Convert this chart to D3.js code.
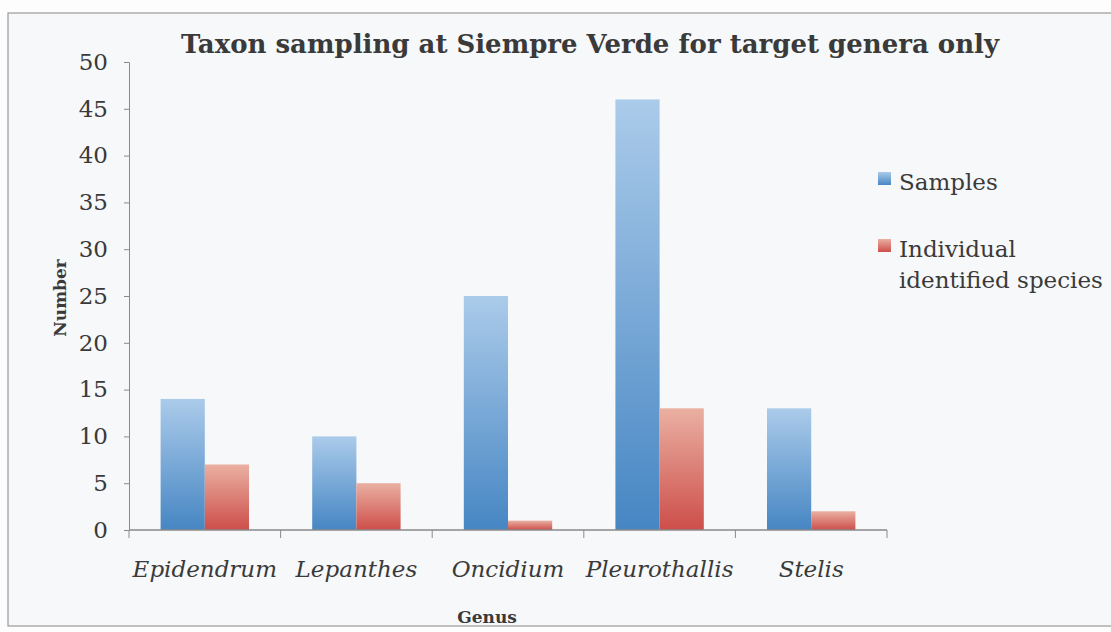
<!DOCTYPE html>
<html lang="en">
<head>
    <meta charset="UTF-8">
    <title>Taxon sampling</title>
    <script src="https://d3js.org/d3.v7.min.js"></script>
    <style>
        body { margin: 0; background: #fdfdfd; }
        text { font-family: 'DejaVu Serif', serif; fill: #3a3a3a; }
    </style>
</head>
<body>
<script>
    const width  = 1111;
    const height = 632;

    const genera  = ["Epidendrum", "Lepanthes", "Oncidium", "Pleurothallis", "Stelis"];
    const seriesNames = ["Samples", "Individual identified species"];
    const samples = [14, 10, 25, 46, 13];
    const species = [7, 5, 1, 13, 2];
    const yTicks  = [0, 5, 10, 15, 20, 25, 30, 35, 40, 45, 50];

    const data = genera.map((g, i) => ({genus: g, values: [samples[i], species[i]]}));

    const svg = d3.select("body").append("svg").attr("width", width).attr("height", height);

    // gradients, lighter at the top like the scanned bars
    const defs = svg.append("defs");
    const grads = [["blueGrad", "#abcbea", "#4686c3"], ["redGrad", "#eab0a2", "#cd4e4a"]];
    grads.forEach(g => {
        const lg = defs.append("linearGradient").attr("id", g[0])
                       .attr("x1", 0).attr("x2", 0).attr("y1", 0).attr("y2", 1);
        lg.append("stop").attr("offset", "0%").attr("stop-color", g[1]);
        lg.append("stop").attr("offset", "100%").attr("stop-color", g[2]);
    });

    // frame of the scanned page
    svg.append("rect").attr("x", 8).attr("y", 13).attr("width", width).attr("height", 613)
        .attr("fill", "#f6f8f9").attr("stroke", "#9a9a9a").attr("stroke-width", 1.2);

    const x0 = d3.scaleBand().domain(genera).range([129, 887])
                 .paddingInner(0.417).paddingOuter(0.2085);
    const x1 = d3.scaleBand().domain([0, 1]).range([0, x0.bandwidth()]);
    const y  = d3.scaleLinear().domain([0, 50]).range([530, 62]);

    // y axis
    const yAxis = svg.append("g").attr("transform", "translate(129,0)")
        .call(d3.axisLeft(y).tickValues(yTicks).tickSize(5).tickPadding(16));
    yAxis.select(".domain").attr("stroke", "#8a8a8a");
    yAxis.selectAll(".tick line").attr("stroke", "#8a8a8a");
    yAxis.selectAll(".tick text").attr("font-size", 23).attr("font-family", "'DejaVu Serif', serif")
         .attr("fill", "#3a3a3a");

    // bars
    const groups = svg.selectAll(".grp").data(data).enter().append("g")
        .attr("transform", d => "translate(" + x0(d.genus) + ",0)");
    groups.selectAll("rect").data(d => d.values).enter().append("rect")
        .attr("x", (d, i) => x1(i))
        .attr("width", x1.bandwidth())
        .attr("y", d => y(d))
        .attr("height", d => y(0) - y(d))
        .attr("fill", (d, i) => i === 0 ? "url(#blueGrad)" : "url(#redGrad)");

    // x axis: ticks at category boundaries
    const xAxis = svg.append("g").attr("transform", "translate(0," + y(0) + ")");
    xAxis.append("line").attr("x1", 129).attr("x2", 887).attr("stroke", "#8a8a8a").attr("stroke-width", 1.5);
    const step = x0.step();
    d3.range(genera.length + 1).forEach(i => {
        xAxis.append("line").attr("x1", 129 + i * step).attr("x2", 129 + i * step)
             .attr("y1", 0).attr("y2", 8).attr("stroke", "#8a8a8a");
    });
    xAxis.selectAll(".lab").data(genera).enter().append("text")
        .attr("x", d => x0(d) + x0.bandwidth() / 2)
        .attr("y", 47)
        .attr("text-anchor", "middle")
        .attr("font-size", 23)
        .attr("font-style", "italic")
        .text(d => d);

    // titles
    svg.append("text").attr("x", 590).attr("y", 53).attr("text-anchor", "middle")
        .attr("font-size", 26).attr("font-weight", "bold").attr("fill", "#333")
        .text("Taxon sampling at Siempre Verde for target genera only");
    svg.append("text").attr("x", 487).attr("y", 623).attr("text-anchor", "middle")
        .attr("font-size", 17).attr("font-weight", "bold").text("Genus");
    svg.append("text").attr("transform", "translate(66,298) rotate(-90)")
        .attr("text-anchor", "middle").attr("font-size", 17).attr("font-weight", "bold").text("Number");

    // legend
    const legend = svg.append("g").attr("transform", "translate(878,0)");
    const legRows = [{name: "Samples", fill: "url(#blueGrad)", y: 172, lines: ["Samples"]},
                     {name: seriesNames[1], fill: "url(#redGrad)", y: 239, lines: ["Individual", "identified species"]}];
    legRows.forEach(r => {
        legend.append("rect").attr("x", 0).attr("y", r.y).attr("width", 13).attr("height", 13).attr("fill", r.fill);
        r.lines.forEach((l, k) => {
            legend.append("text").attr("x", 21).attr("y", r.y + 18 + k * 31)
                  .attr("font-size", 23).text(l);
        });
    });
</script>
</body>
</html>
